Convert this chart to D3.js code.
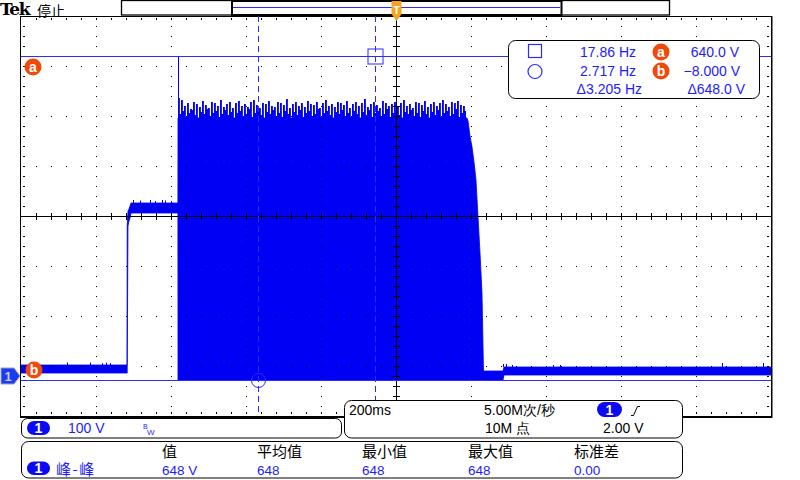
<!DOCTYPE html>
<html><head><meta charset="utf-8">
<script src="https://cdn.jsdelivr.net/npm/d3@7"></script>
<style>
html,body{margin:0;padding:0;background:#fff;}
svg{display:block;font-family:"Liberation Sans",Arial,sans-serif;}
</style></head><body>
<svg id="c" width="800" height="480"></svg>
<script>
// ---------------- data ----------------
const timeDomain = [-1, 1];        // seconds, 200 ms/div, 10 div
const voltDomain = [-80, 720];     // volts, 100 V/div, 8 div

// coarse envelope of the captured trace (time s, max V, min V)
const envTime = [-1.000, -0.7173, -0.7168, -0.7147, -0.7120, -0.7093, -0.7067, -0.5816, -0.5813, 0.1867, 0.1893, 0.1920, 0.1973, 0.2027, 0.2080, 0.2133, 0.2187, 0.2240, 0.2293, 0.2320, 0.2333, 0.2853, 0.2880, 1.000];
const envMax  = [22, 22, 300, 330, 334, 340, 346, 346, 516, 516, 516, 510, 480, 458, 428, 392, 318, 246, 166, 60, 10, 10, 18, 18];
const envMin  = [6, 6, 6, 300, 310, 316, 326, 326, -8, -8, -8, -8, -8, -8, -8, -8, -8, -8, -8, -8, -8, -8, 2, 2];

// burst top: peak / trough per 8 ms slot, starting at burst onset
const burstStart = -0.5813;
const burstSlot = 0.008;
const burstPeaks = [
  556, 552, 540, 546, 534, 548, 544, 538, 550, 542, 536, 548,
  546, 540, 552, 538, 544, 548, 536, 546, 550, 540, 544, 538,
  548, 552, 542, 536, 546, 544, 550, 540, 538, 548, 546, 542,
  554, 536, 544, 548, 540, 546, 538, 550, 544, 542, 548, 536,
  546, 552, 540, 544, 538, 548, 546, 542, 550, 536, 544, 548,
  540, 546, 554, 538, 544, 548, 542, 536, 550, 546, 540, 544,
  548, 538, 546, 552, 540, 544, 536, 548, 546, 542, 550, 538,
  544, 548, 540, 546, 552, 544, 538, 548, 546, 550, 542, 540];
const burstDips = [
  524, 530, 518, 526, 532, 522, 516, 528, 524, 534, 520, 526,
  530, 518, 524, 532, 522, 528, 516, 526, 530, 520, 524, 534,
  518, 526, 530, 522, 516, 528, 524, 532, 520, 526, 518, 530,
  524, 516, 528, 522, 532, 518, 526, 530, 520, 524, 534, 518,
  526, 530, 522, 516, 528, 524, 532, 520, 526, 518, 530, 524,
  516, 528, 522, 532, 518, 526, 530, 520, 524, 534, 518, 526,
  530, 522, 516, 528, 524, 532, 520, 526, 518, 530, 524, 516,
  528, 522, 532, 518, 526, 530, 520, 524, 534, 518, 526, 530];

// isolated glitches (time s, from V, to V)
const spikeTime = [-0.877, -0.816, -0.784, -0.773, -0.763, -0.701, -0.683, -0.656, -0.643, -0.624, -0.616, -0.600, -0.5813, 0.285, 0.293, 0.309, 0.419, 0.437, 0.869, 0.979];
const spikeFrom = [22, 22, 22, 22, 22, 346, 346, 346, 346, 346, 346, 346, 516, 18, 18, 18, 18, 18, 18, 18];
const spikeTo   = [27, 27, 26, 27, 26, 352, 351, 352, 350, 352, 351, 350, 640, 24, 24, 22, 22, 22, 26, 26];

// cursors
const cursorVolts = [640, -8];          // a, b
const cursorTimes = [-0.056, -0.368];   // square, circle
const readFreq = ["17.86 Hz", "2.717 Hz", "\u03943.205 Hz"];
const readVolt = ["640.0 V", "\u22128.000 V", "\u0394648.0 V"];
const cursorBadges = ["a", "b"];

// status panels
const chanScale = "100 V";
const horizTexts = ["200ms", "5.00M\u6b21/\u79d2", "10M \u70b9", "2.00 V"];
const measHeaders = ["\u503c", "\u5e73\u5747\u503c", "\u6700\u5c0f\u503c", "\u6700\u5927\u503c", "\u6807\u51c6\u5dee"];
const measValues = ["648 V", "648", "648", "648", "0.00"];
const measName = "\u5cf0-\u5cf0";

// ---------------- drawing ----------------
const W = 800, H = 480;
const L = 21, R = 771, T = 16, B = 416;
const WAVE = "#0000f5", CUR = "#2b2bff", TXT = "#1c1cff", ORANGE = "#f04a0a";
const FS = 14;
const CJK = '"Noto Sans CJK SC", sans-serif';
const svg = d3.select("#c");
svg.append("rect").attr("width", W).attr("height", H).attr("fill", "#fff");

const x = d3.scaleLinear().domain(timeDomain).range([L, R]);
const y = d3.scaleLinear().domain(voltDomain).range([B, T]);

// trace envelope
const env = envTime.map((t, i) => ({t, hi: envMax[i], lo: envMin[i]}));
svg.append("path").datum(env)
  .attr("d", d3.area().x(d => x(d.t)).y0(d => y(d.lo)).y1(d => y(d.hi)))
  .attr("fill", WAVE).attr("stroke", WAVE).attr("stroke-width", 0.8);

// burst comb
const comb = [];
burstPeaks.forEach((p, i) => {
  const t0 = burstStart + i * burstSlot;
  comb.push({t: t0, v: p});
  comb.push({t: t0 + burstSlot * 0.62, v: burstDips[i]});
});
comb.push({t: burstStart + burstPeaks.length * burstSlot, v: burstDips[burstDips.length - 1]});
svg.append("path").datum(comb)
  .attr("d", d3.area().curve(d3.curveStepAfter).x(d => x(d.t)).y0(y(500)).y1(d => y(d.v)))
  .attr("fill", WAVE);

// spikes
svg.append("g").selectAll("line").data(spikeTime).join("line")
  .attr("x1", (t) => Math.round(x(t)) + 0.5).attr("x2", (t) => Math.round(x(t)) + 0.5)
  .attr("y1", (t, i) => y(spikeFrom[i])).attr("y2", (t, i) => y(spikeTo[i]))
  .attr("stroke", WAVE).attr("stroke-width", 1);

// ---------------- graticule ----------------
const gx = d3.scaleLinear().domain([0, 10]).range([L, R]);
const gy = d3.scaleLinear().domain([0, 8]).range([T, B]);
const grid = svg.append("g").attr("fill", "#000");
for (let k = 1; k < 10; k++) {
  if (k === 5) continue;
  const xx = Math.round(gx(k));
  for (let m = 1; m < 40; m++) grid.append("rect").attr("x", xx).attr("y", Math.round(gy(m / 5))).attr("width", 1).attr("height", 1);
}
for (let k = 1; k < 8; k++) {
  if (k === 4) continue;
  const yy = Math.round(gy(k));
  for (let m = 1; m < 50; m++) grid.append("rect").attr("x", Math.round(gx(m / 5))).attr("y", yy).attr("width", 1).attr("height", 1);
}
// frame ticks
for (let m = 1; m < 50; m++) {
  const xx = Math.round(gx(m / 5));
  grid.append("rect").attr("x", xx).attr("y", T + 2).attr("width", 1).attr("height", 2);
  grid.append("rect").attr("x", xx).attr("y", B - 4).attr("width", 1).attr("height", 2);
}
for (let m = 1; m < 40; m++) {
  const yy = Math.round(gy(m / 5));
  grid.append("rect").attr("x", L + 2).attr("y", yy).attr("width", 2).attr("height", 1);
  grid.append("rect").attr("x", R - 4).attr("y", yy).attr("width", 2).attr("height", 1);
}
// center cross
const cx = Math.round(gx(5)), cy = Math.round(gy(4));
grid.append("rect").attr("x", L).attr("y", cy).attr("width", R - L).attr("height", 1);
grid.append("rect").attr("x", cx).attr("y", T).attr("width", 1).attr("height", B - T);
for (let m = 1; m < 50; m++) grid.append("rect").attr("x", Math.round(gx(m / 5))).attr("y", cy - 3).attr("width", 1).attr("height", 7);
for (let m = 1; m < 40; m++) grid.append("rect").attr("x", cx - 3).attr("y", Math.round(gy(m / 5))).attr("width", 7).attr("height", 1);
// frame
grid.append("rect").attr("x", L - 1).attr("y", T).attr("width", 1).attr("height", B - T + 2);
grid.append("rect").attr("x", R).attr("y", T).attr("width", 1.5).attr("height", B - T + 2);
grid.append("rect").attr("x", L - 1).attr("y", T).attr("width", R - L + 2).attr("height", 1);
grid.append("rect").attr("x", L - 1).attr("y", B).attr("width", R - L + 2).attr("height", 2);

// ---------------- cursors ----------------
const cg = svg.append("g");
cursorVolts.forEach(v => {
  cg.append("line").attr("x1", L).attr("x2", R).attr("y1", Math.round(y(v)) + 0.5).attr("y2", Math.round(y(v)) + 0.5)
    .attr("stroke", CUR).attr("stroke-width", 1);
});
cursorTimes.forEach(t => {
  cg.append("line").attr("x1", Math.round(x(t)) + 0.5).attr("x2", Math.round(x(t)) + 0.5).attr("y1", T).attr("y2", B)
    .attr("stroke", CUR).attr("stroke-width", 1).attr("stroke-dasharray", "6,4");
});
cg.append("rect").attr("x", Math.round(x(cursorTimes[0])) - 7).attr("y", Math.round(y(cursorVolts[0])) - 7)
  .attr("width", 15).attr("height", 15).attr("fill", "none").attr("stroke", CUR).attr("stroke-width", 1);
cg.append("circle").attr("cx", Math.round(x(cursorTimes[1])) + 0.5).attr("cy", Math.round(y(cursorVolts[1])) + 0.5)
  .attr("r", 7).attr("fill", "none").attr("stroke", CUR).attr("stroke-width", 1);

function badge(g, cxp, cyp, letter) {
  g.append("circle").attr("cx", cxp).attr("cy", cyp).attr("r", 8.5).attr("fill", ORANGE);
  g.append("text").attr("x", cxp).attr("y", cyp + 4.5).attr("text-anchor", "middle")
    .attr("font-size", 14).attr("font-weight", "bold").attr("fill", "#fff").text(letter);
}
badge(cg, 33, y(cursorVolts[0]) + 11, cursorBadges[0]);
badge(cg, 34, y(cursorVolts[1]) - 10, cursorBadges[1]);

// channel ground marker (0 V)
const gy0 = y(0);
svg.append("path").attr("d", `M1,${gy0 - 8} L14,${gy0 - 8} L20,${gy0} L14,${gy0 + 8} L1,${gy0 + 8} Z`)
  .attr("fill", "#1a3cf0").attr("stroke", "#9aa0b8").attr("stroke-width", 1);
svg.append("text").attr("x", 8).attr("y", gy0 + 5).attr("text-anchor", "middle").attr("font-size", 13)
  .attr("font-weight", "bold").attr("fill", "#c8c8c8").text("1");

// readout box
const rb = svg.append("g");
rb.append("rect").attr("x", 508.5).attr("y", 40.5).attr("width", 251).attr("height", 58).attr("rx", 7)
  .attr("fill", "#fff").attr("stroke", "#000").attr("stroke-width", 1);
rb.append("rect").attr("x", 528.5).attr("y", 44.5).attr("width", 13).attr("height", 13)
  .attr("fill", "none").attr("stroke", CUR).attr("stroke-width", 1.2);
rb.append("circle").attr("cx", 535).attr("cy", 71.5).attr("r", 7)
  .attr("fill", "none").attr("stroke", CUR).attr("stroke-width", 1.2);
const rowY = [57, 75.5, 93.5];
const freqX = [636, 636, 642];
const voltX = [739, 740, 745];
readFreq.forEach((s, i) => rb.append("text").attr("x", freqX[i]).attr("y", rowY[i]).attr("text-anchor", "end")
  .attr("font-size", FS).attr("fill", TXT).text(s));
readVolt.forEach((s, i) => rb.append("text").attr("x", voltX[i]).attr("y", rowY[i]).attr("text-anchor", "end")
  .attr("font-size", FS).attr("fill", TXT).text(s));
badge(rb, 661, 52, cursorBadges[0]);
badge(rb, 661, 71, cursorBadges[1]);

// ---------------- top bar ----------------
const tb = svg.append("g");
tb.append("text").attr("x", 0).attr("y", 15).style("font-family", '"DejaVu Serif", serif').attr("font-weight", "bold")
  .attr("font-size", 17).attr("letter-spacing", -1.4).attr("fill", "#000").text("Tek");
tb.append("text").attr("x", 37).attr("y", 16).style("font-family", CJK).attr("font-size", 14)
  .attr("fill", "#000").text("\u505c\u6b62");
tb.append("rect").attr("x", 121.5).attr("y", 0.5).attr("width", 548).attr("height", 14.5)
  .attr("fill", "#fff").attr("stroke", "#000").attr("stroke-width", 1.3);
tb.append("rect").attr("x", 232).attr("y", 1).attr("width", 329.5).attr("height", 14)
  .attr("fill", "#fff").attr("stroke", "#000").attr("stroke-width", 2);
tb.append("line").attr("x1", 233).attr("x2", 560).attr("y1", 7.5).attr("y2", 7.5).attr("stroke", CUR).attr("stroke-width", 1);
const tx = Math.round(x(0)) + 0.5;
tb.append("path").attr("d", `M${tx - 5},1 L${tx + 5},1 L${tx + 5},14 L${tx},21 L${tx - 5},14 Z`).attr("fill", "#f5a21e");
tb.append("text").attr("x", tx).attr("y", 14).attr("text-anchor", "middle").attr("font-size", 11)
  .attr("font-weight", "bold").attr("fill", "#fff").text("T");

// ---------------- bottom panels ----------------
const bp = svg.append("g");
function pill(g, x0, y0, w, h) {
  g.append("rect").attr("x", x0).attr("y", y0).attr("width", w).attr("height", h).attr("rx", h / 2).attr("fill", "#0a0af5");
  g.append("text").attr("x", x0 + w / 2).attr("y", y0 + h / 2 + 5).attr("text-anchor", "middle")
    .attr("font-size", 14).attr("font-weight", "bold").attr("fill", "#fff").text("1");
}
// channel panel
bp.append("rect").attr("x", 21.5).attr("y", 418.5).attr("width", 320).attr("height", 19.5).attr("rx", 6)
  .attr("fill", "#fff").attr("stroke", "#000");
pill(bp, 27, 421, 23, 14);
bp.append("text").attr("x", 68).attr("y", 433).attr("font-size", FS).attr("fill", TXT).text(chanScale);
bp.append("text").attr("x", 143).attr("y", 429).attr("font-size", 7).attr("fill", TXT).text("B");
bp.append("text").attr("x", 147).attr("y", 435).attr("font-size", 8).attr("fill", TXT).text("W");
// horizontal panel
bp.append("rect").attr("x", 344.5).attr("y", 400.5).attr("width", 338).attr("height", 37.5).attr("rx", 7)
  .attr("fill", "#fff").attr("stroke", "#000");
bp.append("text").attr("x", 349).attr("y", 415).attr("font-size", FS).attr("fill", "#000").text(horizTexts[0]);
bp.append("text").attr("x", 484).attr("y", 415).attr("font-size", FS).attr("fill", "#000").text(horizTexts[1]);
bp.append("text").attr("x", 485).attr("y", 433).attr("font-size", FS).attr("fill", "#000").text(horizTexts[2]);
bp.append("text").attr("x", 603).attr("y", 433).attr("font-size", FS).attr("fill", "#000").text(horizTexts[3]);
pill(bp, 597, 402, 25, 15);
bp.append("path").attr("d", "M631,415.5 L633.5,415.5 L637.5,406.5 L640,406.5").attr("fill", "none").attr("stroke", "#000").attr("stroke-width", 1);
// measurement panel
bp.append("rect").attr("x", 21.5).attr("y", 441.5).attr("width", 661).attr("height", 36.5).attr("rx", 7)
  .attr("fill", "#fff").attr("stroke", "#000");
const colX = [162, 257, 362, 468, 574];
measHeaders.forEach((s, i) => bp.append("text").attr("x", colX[i]).attr("y", 457).style("font-family", CJK)
  .attr("font-size", 15).attr("fill", "#000").text(s));
measValues.forEach((s, i) => bp.append("text").attr("x", colX[i]).attr("y", 474.5).attr("font-size", 13.5)
  .attr("fill", TXT).text(s));
pill(bp, 27, 461.5, 23, 13.5);
bp.append("text").attr("x", 56).attr("y", 474.5).style("font-family", CJK).attr("font-size", 15)
  .attr("letter-spacing", 1.5).attr("fill", TXT).text(measName);
</script></body></html>
